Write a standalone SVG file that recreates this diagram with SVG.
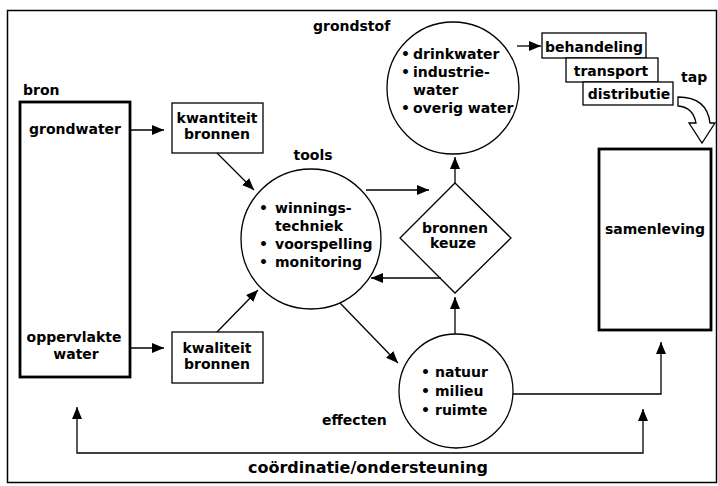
<svg xmlns="http://www.w3.org/2000/svg" width="718" height="486" viewBox="0 0 718 486">
<defs>
<style>
text{font-family:"DejaVu Sans","Liberation Sans",sans-serif;font-weight:bold;font-size:14px;fill:#000}
.c{text-anchor:middle}
.thin{fill:#fff;stroke:#000;stroke-width:1.3}
.thick{fill:#fff;stroke:#000;stroke-width:2.8}
.ln{fill:none;stroke:#000;stroke-width:1.3}
</style>
<marker id="ah" markerWidth="12" markerHeight="10" refX="12" refY="5" orient="auto-start-reverse" markerUnits="userSpaceOnUse"><path d="M0,0 L12,5 L0,10 z" fill="#000"/></marker>
</defs>
<rect x="0" y="0" width="718" height="486" fill="#fff"/>
<rect x="7.5" y="10.5" width="709" height="472" fill="none" stroke="#000" stroke-width="1.5"/>

<g id="bron">
<text x="23" y="95">bron</text>
<rect class="thick" x="20" y="102" width="110" height="275"/>
<text class="c" x="75" y="134">grondwater</text>
<text class="c" x="74" y="342">oppervlakte</text>
<text class="c" x="76" y="359">water</text>
</g>

<g id="kwantiteit">
<rect class="thin" x="172" y="103" width="91" height="50"/>
<text class="c" x="217" y="123">kwantiteit</text>
<text class="c" x="217" y="139">bronnen</text>
</g>

<g id="kwaliteit">
<rect class="thin" x="172" y="332" width="91" height="51"/>
<text class="c" x="217" y="353">kwaliteit</text>
<text class="c" x="217" y="369">bronnen</text>
</g>

<g id="tools">
<text class="c" x="313" y="160">tools</text>
<circle class="thin" cx="311" cy="239" r="70"/>
<text><tspan x="259" y="213">•</tspan><tspan x="275">winnings-</tspan></text>
<text x="275" y="231">techniek</text>
<text><tspan x="259" y="249">•</tspan><tspan x="275">voorspelling</tspan></text>
<text><tspan x="259" y="267">•</tspan><tspan x="275">monitoring</tspan></text>
</g>

<g id="bronnenkeuze">
<polygon class="thin" points="455,183 511,238 455,293 400,238"/>
<text class="c" x="455" y="233">bronnen</text>
<text class="c" x="453" y="248">keuze</text>
</g>

<g id="grondstof">
<text x="313" y="31">grondstof</text>
<circle class="thin" cx="453" cy="88" r="66"/>
<text><tspan x="401" y="59">•</tspan><tspan x="413">drinkwater</tspan></text>
<text><tspan x="401" y="77">•</tspan><tspan x="413">industrie-</tspan></text>
<text x="413" y="95">water</text>
<text><tspan x="401" y="113">•</tspan><tspan x="413">overig water</tspan></text>
</g>

<g id="tap">
<rect class="thin" x="542" y="33" width="104" height="25"/>
<text class="c" x="594" y="52">behandeling</text>
<rect class="thin" x="566" y="58" width="92" height="24"/>
<text class="c" x="611" y="76">transport</text>
<rect class="thin" x="583" y="82" width="90" height="23"/>
<text class="c" x="629" y="99">distributie</text>
<text x="681" y="82">tap</text>
<path class="thin" d="M678,97 Q707,97 710,123 L715,123 L702,143 L689,123 L696,123 Q693,107 678,106 Z"/>
</g>

<g id="samenleving">
<rect class="thick" x="599" y="149" width="112" height="181"/>
<text class="c" x="655" y="234">samenleving</text>
</g>

<g id="effecten">
<circle class="thin" cx="456" cy="391" r="57"/>
<text><tspan x="421" y="377">•</tspan><tspan x="435">natuur</tspan></text>
<text><tspan x="421" y="396">•</tspan><tspan x="435">milieu</tspan></text>
<text><tspan x="421" y="415">•</tspan><tspan x="435">ruimte</tspan></text>
<text x="322" y="425">effecten</text>
</g>

<g id="connectors">
<path class="ln" d="M130,130 H164" marker-end="url(#ah)"/>
<path class="ln" d="M217,153 L254,190" marker-end="url(#ah)"/>
<path class="ln" d="M130,348 H164" marker-end="url(#ah)"/>
<path class="ln" d="M217,332 L258,290" marker-end="url(#ah)"/>
<path class="ln" d="M366,190 H429" marker-end="url(#ah)"/>
<path class="ln" d="M441,278 H371" marker-end="url(#ah)"/>
<path class="ln" d="M455,183 V157" marker-end="url(#ah)"/>
<path class="ln" d="M517,46 H541" marker-end="url(#ah)"/>
<path class="ln" d="M340,303 L398,363" marker-end="url(#ah)"/>
<path class="ln" d="M455,334 V297" marker-end="url(#ah)"/>
<path class="ln" d="M513,394 H661 V342" marker-end="url(#ah)"/>
<path class="ln" d="M77,407 V453 H643 V409" marker-start="url(#ah)" marker-end="url(#ah)"/>
</g>
<text class="c" x="368" y="473" style="font-size:16px">coördinatie/ondersteuning</text>
</svg>
